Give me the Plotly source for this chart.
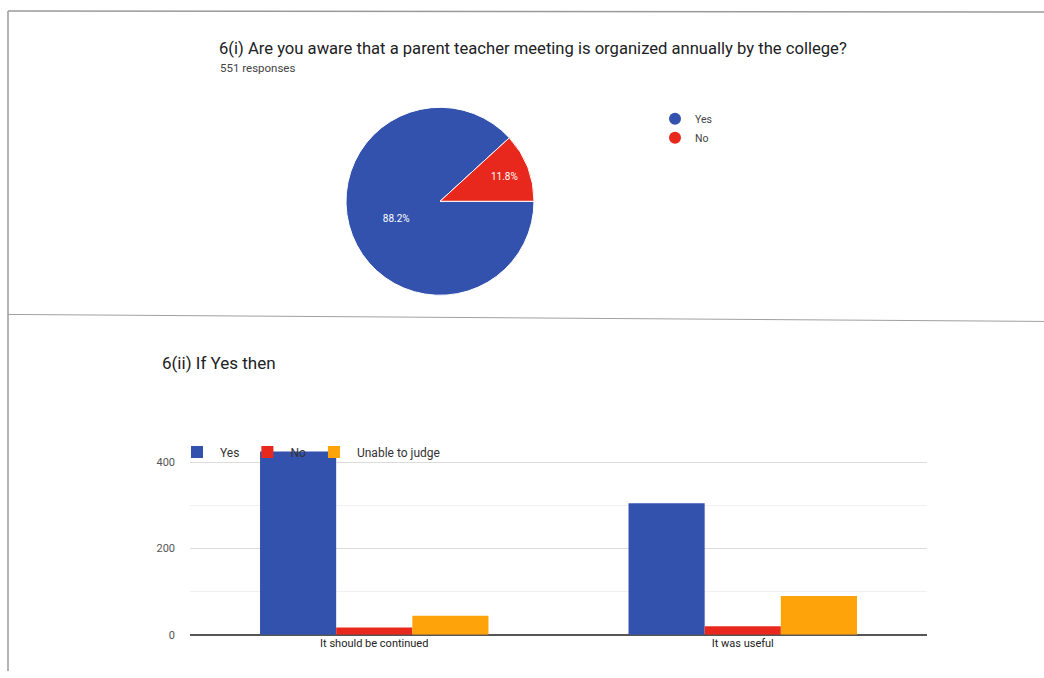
import plotly.graph_objects as go

# Pie data
pie_labels = ["Yes", "No"]
pie_values = [486, 65]  # 551 responses -> 88.2% / 11.8%
pie_colors = ["#3352ae", "#e8281c"]

# Bar data
categories = ["It should be continued", "It was useful"]
series_names = ["Yes", "No", "Unable to judge"]
yes_vals = [425, 305]
no_vals = [17, 20]
unable_vals = [44, 90]
bar_colors = ["#3352ae", "#e8281c", "#ffa30a"]

W, H = 1044, 678
K = 686 / 678  # compensates the vertical scaling seen in the capture
def px(x):
    return x / W
def py(y):
    return 1 - y * K / H

fig = go.Figure()

fig.add_trace(go.Pie(
    labels=pie_labels, values=pie_values, sort=False,
    direction="clockwise", rotation=90,
    marker=dict(colors=pie_colors, line=dict(color="white", width=1)),
    textinfo="percent", texttemplate="%{percent:.1%}",
    textposition="inside", insidetextorientation="horizontal",
    textfont=dict(color="white", size=10, family="Roboto, Arial"),
    domain=dict(x=[px(346), px(534)], y=[py(295), py(107)]),
    showlegend=False,
))

for name, vals, col in zip(series_names, [yes_vals, no_vals, unable_vals], bar_colors):
    fig.add_trace(go.Bar(
        x=categories, y=vals, name=name, marker=dict(color=col, line=dict(width=0)),
        legend="legend",
    ))

# legend markers for pie (circle symbols)
for name, col in zip(pie_labels, pie_colors):
    fig.add_trace(go.Scatter(
        x=[categories[0]], y=[None], mode="markers", name=name,
        marker=dict(symbol="circle", size=12, color=col),
        legend="legend2", showlegend=True, hoverinfo="skip",
    ))

fig.update_layout(
    width=W, height=H, margin=dict(l=0, r=0, t=0, b=0),
    paper_bgcolor="white", plot_bgcolor="white",
    barmode="group", bargap=0.38, bargroupgap=0,
    font=dict(family="Roboto, Arial", color="#333333"),
    xaxis=dict(domain=[px(190), px(927)], type="category",
               categoryorder="array", categoryarray=categories,
               showgrid=False, showline=False,
               ticks="", tickfont=dict(size=11, color="#222222"), fixedrange=True),
    yaxis=dict(domain=[py(634), py(440)], range=[0, 450],
               tickvals=[0, 200, 400], showgrid=True, gridcolor="#dcdcdc",
               zeroline=True, zerolinecolor="#555555", zerolinewidth=1.5,
               minor=dict(dtick=100, showgrid=True, gridcolor="#f0f0f0"),
               tickfont=dict(size=11, color="#555555"), ticklabelstandoff=14),
    legend=dict(orientation="h", x=px(174), y=py(437), xanchor="left", yanchor="top",
                font=dict(size=12, color="#333333"), bgcolor="rgba(0,0,0,0)",
                traceorder="normal", itemwidth=36),
    legend2=dict(orientation="v", x=px(655), y=py(104), xanchor="left", yanchor="top",
                 font=dict(size=10.5, color="#444444"), bgcolor="rgba(0,0,0,0)",
                 itemsizing="constant", tracegroupgap=0),
    annotations=[
        dict(text="6(i) Are you aware that a parent teacher meeting is organized annually by the college?",
             x=px(217), y=py(48), xref="paper", yref="paper", xanchor="left", yanchor="middle",
             showarrow=False, font=dict(size=16.6, color="#202124")),
        dict(text="551 responses", x=px(218), y=py(68), xref="paper", yref="paper",
             xanchor="left", yanchor="middle", showarrow=False,
             font=dict(size=11.5, color="#444444")),
        dict(text="6(ii) If Yes then", x=px(160), y=py(363), xref="paper", yref="paper",
             xanchor="left", yanchor="middle", showarrow=False,
             font=dict(size=17, color="#202124")),
    ],
    shapes=[
        dict(type="line", xref="paper", yref="paper", x0=px(8), y0=py(11), x1=1, y1=py(12),
             line=dict(color="#9a9a9a", width=1.5)),
        dict(type="line", xref="paper", yref="paper", x0=px(8), y0=py(11), x1=px(8), y1=0,
             line=dict(color="#9a9a9a", width=1.5)),
        dict(type="line", xref="paper", yref="paper", x0=px(8), y0=py(314), x1=1, y1=py(321),
             line=dict(color="#a0a0a0", width=1)),
    ],
)

post = (
    "document.documentElement.style.margin='0';"
    "document.documentElement.style.overflow='hidden';"
    "document.body.style.margin='0';"
    "document.body.style.overflow='hidden';"
)
fig.write_html("out.html", config={"displayModeBar": False}, post_script=post)
